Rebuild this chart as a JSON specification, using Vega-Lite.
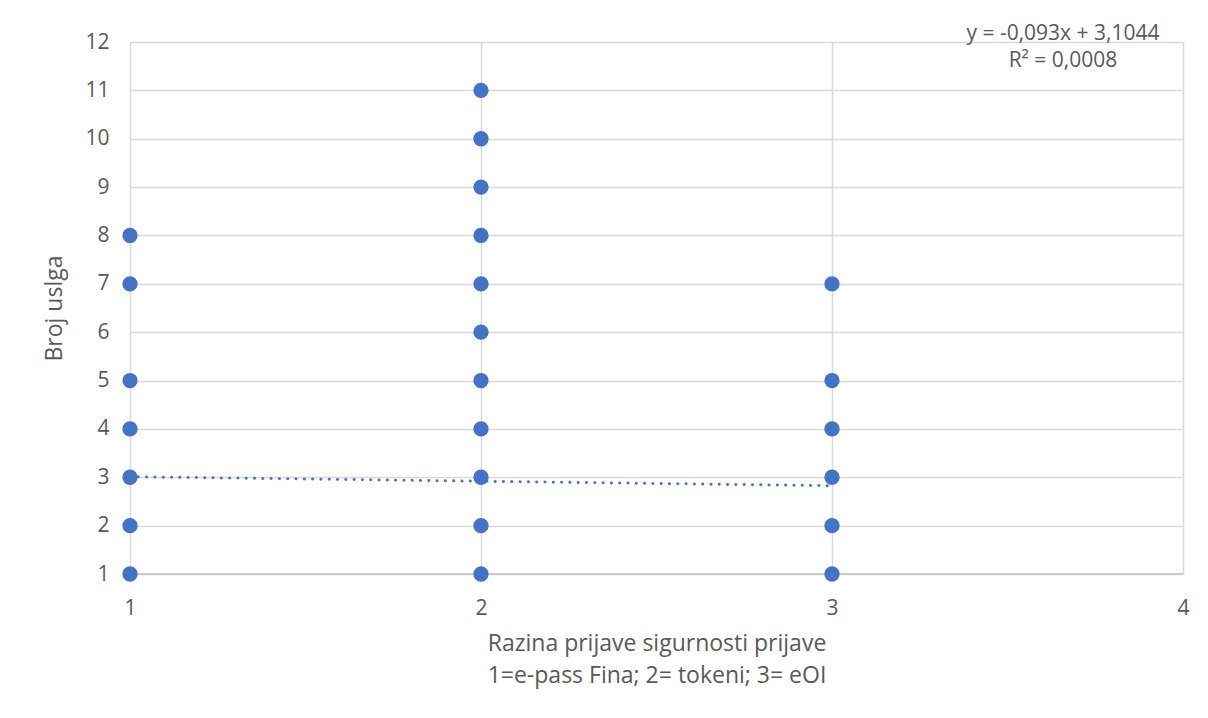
{
  "$schema": "https://vega.github.io/schema/vega-lite/v6.json",
  "width": 1053,
  "height": 532,
  "autosize": {"type": "none"},
  "padding": {"left": 130, "top": 42, "right": 25, "bottom": 144},
  "background": "white",
  "config": {
    "font": "Open Sans",
    "view": {"stroke": null},
    "axis": {
      "labelFont": "Open Sans",
      "titleFont": "Open Sans",
      "labelColor": "#595959",
      "titleColor": "#595959",
      "labelFontSize": 21,
      "titleFontSize": 23,
      "titleFontWeight": "normal",
      "gridColor": "#d9d9d9",
      "gridWidth": 1.5,
      "ticks": false,
      "domain": false,
      "labelFlush": false
    }
  },
  "datasets": {
    "points": [
      {"razina": 1, "broj": 1}, {"razina": 1, "broj": 2}, {"razina": 1, "broj": 3},
      {"razina": 1, "broj": 4}, {"razina": 1, "broj": 5}, {"razina": 1, "broj": 7},
      {"razina": 1, "broj": 8},
      {"razina": 2, "broj": 1}, {"razina": 2, "broj": 2}, {"razina": 2, "broj": 3},
      {"razina": 2, "broj": 4}, {"razina": 2, "broj": 5}, {"razina": 2, "broj": 6},
      {"razina": 2, "broj": 7}, {"razina": 2, "broj": 8}, {"razina": 2, "broj": 9},
      {"razina": 2, "broj": 10}, {"razina": 2, "broj": 11},
      {"razina": 3, "broj": 1}, {"razina": 3, "broj": 2}, {"razina": 3, "broj": 3},
      {"razina": 3, "broj": 4}, {"razina": 3, "broj": 5}, {"razina": 3, "broj": 7}
    ],
    "trend": [
      {"razina": 1, "broj": 3.0114},
      {"razina": 3, "broj": 2.8254}
    ],
    "labels": [
      {"razina": 3.658, "broj": 12.17, "text": "y = -0,093x + 3,1044"},
      {"razina": 3.658, "broj": 11.61, "text": "R² = 0,0008"}
    ],
    "baseline": [
      {"razina": 1, "broj": 1},
      {"razina": 4, "broj": 1}
    ]
  },
  "layer": [
    {
      "data": {"name": "points"},
      "mark": {"type": "point", "filled": true, "opacity": 1, "size": 0, "color": "#4472C4"},
      "encoding": {
        "x": {
          "field": "razina", "type": "quantitative",
          "scale": {"domain": [1, 4], "nice": false, "zero": false},
          "axis": {
            "values": [1, 2, 3, 4], "format": "d", "grid": true, "labelPadding": 23,
            "title": ["Razina prijave sigurnosti prijave", "1=e-pass Fina; 2= tokeni; 3= eOI"],
            "titlePadding": 14, "titleLineHeight": 32
          }
        },
        "y": {
          "field": "broj", "type": "quantitative",
          "scale": {"domain": [1, 12], "nice": false, "zero": false},
          "axis": {
            "values": [1, 2, 3, 4, 5, 6, 7, 8, 9, 10, 11, 12], "format": "d", "grid": true, "labelPadding": 21,
            "title": "Broj uslga", "titlePadding": 18
          }
        }
      }
    },
    {
      "data": {"name": "baseline"},
      "mark": {"type": "line", "color": "#bfbfbf", "strokeWidth": 1.5},
      "encoding": {
        "x": {"field": "razina", "type": "quantitative"},
        "y": {"field": "broj", "type": "quantitative"}
      }
    },
    {
      "data": {"name": "points"},
      "mark": {"type": "point", "filled": true, "opacity": 1, "size": 235, "color": "#4472C4", "shape": "circle"},
      "encoding": {
        "x": {"field": "razina", "type": "quantitative"},
        "y": {"field": "broj", "type": "quantitative"}
      }
    },
    {
      "data": {"name": "trend"},
      "mark": {"type": "line", "color": "#4472C4", "strokeWidth": 3, "strokeCap": "round", "strokeDash": [0.1, 8.2]},
      "encoding": {
        "x": {"field": "razina", "type": "quantitative"},
        "y": {"field": "broj", "type": "quantitative"}
      }
    },
    {
      "data": {"name": "labels"},
      "mark": {"type": "text", "font": "Open Sans", "fontSize": 21, "color": "#595959", "align": "center", "baseline": "middle", "clip": false},
      "encoding": {
        "x": {"field": "razina", "type": "quantitative"},
        "y": {"field": "broj", "type": "quantitative"},
        "text": {"field": "text"}
      }
    }
  ]
}
